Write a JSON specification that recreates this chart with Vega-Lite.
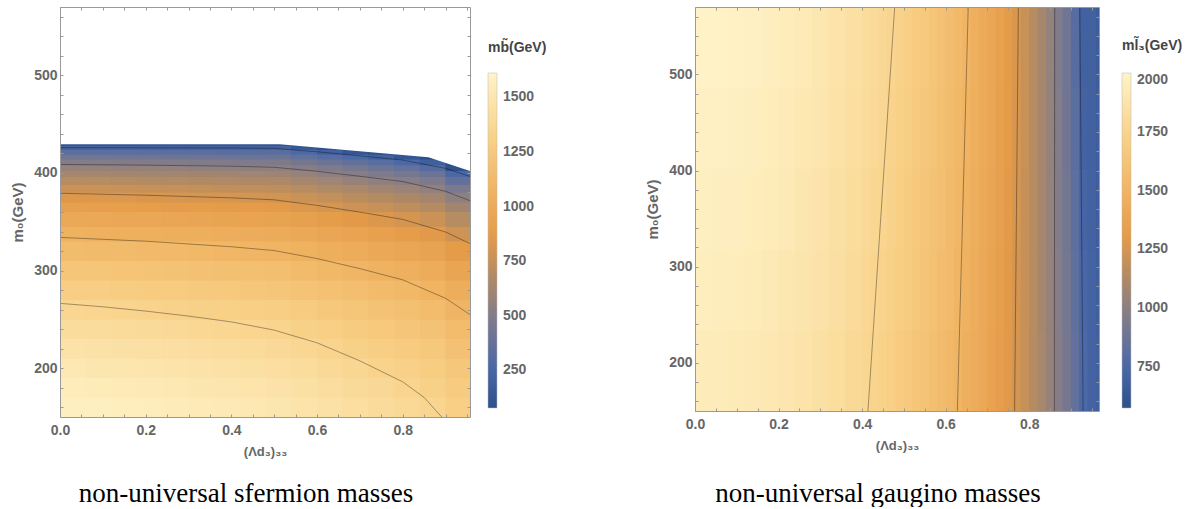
{
"$schema": "https://vega.github.io/schema/vega-lite/v6.json",
"padding": {"left": 10, "top": 6, "right": 0, "bottom": 0},
"background": "white",
"config": {
  "view": {"stroke": null},
  "axis": {"labelFont": "Liberation Sans", "labelFontWeight": "bold", "labelFontSize": 14, "labelColor": "#666", "titleFont": "Liberation Sans", "titleFontWeight": "bold", "titleFontSize": 14, "titleColor": "#666", "grid": false, "domain": true, "domainColor": "#999", "tickColor": "#999", "zindex": 2, "labelOverlap": false, "labelFlush": false},
  "concat": {"spacing": 98}
},
"datasets": {
"sfermion": [
{"x":0,"x2":0.06,"y":150,"y2":170,"m":1581},{"x":0,"x2":0.06,"y":170,"y2":190,"m":1547},{"x":0,"x2":0.06,"y":190,"y2":210,"m":1508},{"x":0,"x2":0.06,"y":210,"y2":230,"m":1464},{"x":0,"x2":0.06,"y":230,"y2":250,"m":1413},{"x":0,"x2":0.06,"y":250,"y2":270,"m":1357},{"x":0,"x2":0.06,"y":270,"y2":290,"m":1292},{"x":0,"x2":0.06,"y":290,"y2":310,"m":1220},{"x":0,"x2":0.06,"y":310,"y2":330,"m":1138},{"x":0,"x2":0.06,"y":330,"y2":345,"m":1055},{"x":0,"x2":0.06,"y":345,"y2":360,"m":976},{"x":0,"x2":0.06,"y":360,"y2":370,"m":900},{"x":0,"x2":0.06,"y":370,"y2":380,"m":833},{"x":0,"x2":0.06,"y":380,"y2":388,"m":766},{"x":0,"x2":0.06,"y":388,"y2":396,"m":700},{"x":0,"x2":0.06,"y":396,"y2":402,"m":635},{"x":0,"x2":0.06,"y":402,"y2":408,"m":572},{"x":0,"x2":0.06,"y":408,"y2":414,"m":501},{"x":0,"x2":0.06,"y":414,"y2":419,"m":423},{"x":0,"x2":0.06,"y":419,"y2":424,"m":337},{"x":0,"x2":0.06,"y":424,"y2":428,"m":232},{"x":0,"x2":0.06,"y":428,"y2":430,"m":116},
{"x":0.06,"x2":0.12,"y":150,"y2":170,"m":1573},{"x":0.06,"x2":0.12,"y":170,"y2":190,"m":1539},{"x":0.06,"x2":0.12,"y":190,"y2":210,"m":1500},{"x":0.06,"x2":0.12,"y":210,"y2":230,"m":1457},{"x":0.06,"x2":0.12,"y":230,"y2":250,"m":1406},{"x":0.06,"x2":0.12,"y":250,"y2":270,"m":1350},{"x":0.06,"x2":0.12,"y":270,"y2":290,"m":1286},{"x":0.06,"x2":0.12,"y":290,"y2":310,"m":1214},{"x":0.06,"x2":0.12,"y":310,"y2":330,"m":1132},{"x":0.06,"x2":0.12,"y":330,"y2":345,"m":1050},{"x":0.06,"x2":0.12,"y":345,"y2":360,"m":971},{"x":0.06,"x2":0.12,"y":360,"y2":370,"m":896},{"x":0.06,"x2":0.12,"y":370,"y2":380,"m":829},{"x":0.06,"x2":0.12,"y":380,"y2":388,"m":762},{"x":0.06,"x2":0.12,"y":388,"y2":396,"m":697},{"x":0.06,"x2":0.12,"y":396,"y2":402,"m":632},{"x":0.06,"x2":0.12,"y":402,"y2":408,"m":569},{"x":0.06,"x2":0.12,"y":408,"y2":414,"m":498},{"x":0.06,"x2":0.12,"y":414,"y2":419,"m":421},{"x":0.06,"x2":0.12,"y":419,"y2":424,"m":335},{"x":0.06,"x2":0.12,"y":424,"y2":428,"m":231},{"x":0.06,"x2":0.12,"y":428,"y2":430,"m":115},
{"x":0.12,"x2":0.18,"y":150,"y2":170,"m":1564},{"x":0.12,"x2":0.18,"y":170,"y2":190,"m":1531},{"x":0.12,"x2":0.18,"y":190,"y2":210,"m":1492},{"x":0.12,"x2":0.18,"y":210,"y2":230,"m":1449},{"x":0.12,"x2":0.18,"y":230,"y2":250,"m":1398},{"x":0.12,"x2":0.18,"y":250,"y2":270,"m":1343},{"x":0.12,"x2":0.18,"y":270,"y2":290,"m":1279},{"x":0.12,"x2":0.18,"y":290,"y2":310,"m":1207},{"x":0.12,"x2":0.18,"y":310,"y2":330,"m":1126},{"x":0.12,"x2":0.18,"y":330,"y2":345,"m":1044},{"x":0.12,"x2":0.18,"y":345,"y2":360,"m":966},{"x":0.12,"x2":0.18,"y":360,"y2":370,"m":891},{"x":0.12,"x2":0.18,"y":370,"y2":380,"m":824},{"x":0.12,"x2":0.18,"y":380,"y2":388,"m":758},{"x":0.12,"x2":0.18,"y":388,"y2":396,"m":693},{"x":0.12,"x2":0.18,"y":396,"y2":402,"m":628},{"x":0.12,"x2":0.18,"y":402,"y2":408,"m":566},{"x":0.12,"x2":0.18,"y":408,"y2":414,"m":496},{"x":0.12,"x2":0.18,"y":414,"y2":419,"m":419},{"x":0.12,"x2":0.18,"y":419,"y2":424,"m":333},{"x":0.12,"x2":0.18,"y":424,"y2":428,"m":230},{"x":0.12,"x2":0.18,"y":428,"y2":430,"m":115},
{"x":0.18,"x2":0.24,"y":150,"y2":170,"m":1555},{"x":0.18,"x2":0.24,"y":170,"y2":190,"m":1522},{"x":0.18,"x2":0.24,"y":190,"y2":210,"m":1483},{"x":0.18,"x2":0.24,"y":210,"y2":230,"m":1440},{"x":0.18,"x2":0.24,"y":230,"y2":250,"m":1390},{"x":0.18,"x2":0.24,"y":250,"y2":270,"m":1335},{"x":0.18,"x2":0.24,"y":270,"y2":290,"m":1271},{"x":0.18,"x2":0.24,"y":290,"y2":310,"m":1200},{"x":0.18,"x2":0.24,"y":310,"y2":330,"m":1119},{"x":0.18,"x2":0.24,"y":330,"y2":345,"m":1038},{"x":0.18,"x2":0.24,"y":345,"y2":360,"m":960},{"x":0.18,"x2":0.24,"y":360,"y2":370,"m":885},{"x":0.18,"x2":0.24,"y":370,"y2":380,"m":819},{"x":0.18,"x2":0.24,"y":380,"y2":388,"m":753},{"x":0.18,"x2":0.24,"y":388,"y2":396,"m":689},{"x":0.18,"x2":0.24,"y":396,"y2":402,"m":625},{"x":0.18,"x2":0.24,"y":402,"y2":408,"m":563},{"x":0.18,"x2":0.24,"y":408,"y2":414,"m":493},{"x":0.18,"x2":0.24,"y":414,"y2":419,"m":416},{"x":0.18,"x2":0.24,"y":419,"y2":424,"m":331},{"x":0.18,"x2":0.24,"y":424,"y2":428,"m":228},{"x":0.18,"x2":0.24,"y":428,"y2":430,"m":114},
{"x":0.24,"x2":0.3,"y":150,"y2":170,"m":1545},{"x":0.24,"x2":0.3,"y":170,"y2":190,"m":1512},{"x":0.24,"x2":0.3,"y":190,"y2":210,"m":1474},{"x":0.24,"x2":0.3,"y":210,"y2":230,"m":1431},{"x":0.24,"x2":0.3,"y":230,"y2":250,"m":1381},{"x":0.24,"x2":0.3,"y":250,"y2":270,"m":1326},{"x":0.24,"x2":0.3,"y":270,"y2":290,"m":1263},{"x":0.24,"x2":0.3,"y":290,"y2":310,"m":1192},{"x":0.24,"x2":0.3,"y":310,"y2":330,"m":1112},{"x":0.24,"x2":0.3,"y":330,"y2":345,"m":1031},{"x":0.24,"x2":0.3,"y":345,"y2":360,"m":954},{"x":0.24,"x2":0.3,"y":360,"y2":370,"m":880},{"x":0.24,"x2":0.3,"y":370,"y2":380,"m":814},{"x":0.24,"x2":0.3,"y":380,"y2":388,"m":749},{"x":0.24,"x2":0.3,"y":388,"y2":396,"m":684},{"x":0.24,"x2":0.3,"y":396,"y2":402,"m":621},{"x":0.24,"x2":0.3,"y":402,"y2":408,"m":559},{"x":0.24,"x2":0.3,"y":408,"y2":414,"m":490},{"x":0.24,"x2":0.3,"y":414,"y2":419,"m":413},{"x":0.24,"x2":0.3,"y":419,"y2":424,"m":329},{"x":0.24,"x2":0.3,"y":424,"y2":428,"m":227},{"x":0.24,"x2":0.3,"y":428,"y2":430,"m":113},
{"x":0.3,"x2":0.36,"y":150,"y2":170,"m":1534},{"x":0.3,"x2":0.36,"y":170,"y2":190,"m":1501},{"x":0.3,"x2":0.36,"y":190,"y2":210,"m":1463},{"x":0.3,"x2":0.36,"y":210,"y2":230,"m":1421},{"x":0.3,"x2":0.36,"y":230,"y2":250,"m":1371},{"x":0.3,"x2":0.36,"y":250,"y2":270,"m":1317},{"x":0.3,"x2":0.36,"y":270,"y2":290,"m":1254},{"x":0.3,"x2":0.36,"y":290,"y2":310,"m":1184},{"x":0.3,"x2":0.36,"y":310,"y2":330,"m":1104},{"x":0.3,"x2":0.36,"y":330,"y2":345,"m":1024},{"x":0.3,"x2":0.36,"y":345,"y2":360,"m":947},{"x":0.3,"x2":0.36,"y":360,"y2":370,"m":873},{"x":0.3,"x2":0.36,"y":370,"y2":380,"m":808},{"x":0.3,"x2":0.36,"y":380,"y2":388,"m":743},{"x":0.3,"x2":0.36,"y":388,"y2":396,"m":679},{"x":0.3,"x2":0.36,"y":396,"y2":402,"m":616},{"x":0.3,"x2":0.36,"y":402,"y2":408,"m":555},{"x":0.3,"x2":0.36,"y":408,"y2":414,"m":486},{"x":0.3,"x2":0.36,"y":414,"y2":419,"m":411},{"x":0.3,"x2":0.36,"y":419,"y2":424,"m":327},{"x":0.3,"x2":0.36,"y":424,"y2":428,"m":225},{"x":0.3,"x2":0.36,"y":428,"y2":430,"m":113},
{"x":0.36,"x2":0.42,"y":150,"y2":170,"m":1523},{"x":0.36,"x2":0.42,"y":170,"y2":190,"m":1490},{"x":0.36,"x2":0.42,"y":190,"y2":210,"m":1452},{"x":0.36,"x2":0.42,"y":210,"y2":230,"m":1410},{"x":0.36,"x2":0.42,"y":230,"y2":250,"m":1361},{"x":0.36,"x2":0.42,"y":250,"y2":270,"m":1307},{"x":0.36,"x2":0.42,"y":270,"y2":290,"m":1244},{"x":0.36,"x2":0.42,"y":290,"y2":310,"m":1175},{"x":0.36,"x2":0.42,"y":310,"y2":330,"m":1096},{"x":0.36,"x2":0.42,"y":330,"y2":345,"m":1016},{"x":0.36,"x2":0.42,"y":345,"y2":360,"m":940},{"x":0.36,"x2":0.42,"y":360,"y2":370,"m":867},{"x":0.36,"x2":0.42,"y":370,"y2":380,"m":802},{"x":0.36,"x2":0.42,"y":380,"y2":388,"m":738},{"x":0.36,"x2":0.42,"y":388,"y2":396,"m":674},{"x":0.36,"x2":0.42,"y":396,"y2":402,"m":612},{"x":0.36,"x2":0.42,"y":402,"y2":408,"m":551},{"x":0.36,"x2":0.42,"y":408,"y2":414,"m":483},{"x":0.36,"x2":0.42,"y":414,"y2":419,"m":407},{"x":0.36,"x2":0.42,"y":419,"y2":424,"m":325},{"x":0.36,"x2":0.42,"y":424,"y2":428,"m":223},{"x":0.36,"x2":0.42,"y":428,"y2":430,"m":112},
{"x":0.42,"x2":0.48,"y":150,"y2":170,"m":1511},{"x":0.42,"x2":0.48,"y":170,"y2":190,"m":1478},{"x":0.42,"x2":0.48,"y":190,"y2":210,"m":1441},{"x":0.42,"x2":0.48,"y":210,"y2":230,"m":1399},{"x":0.42,"x2":0.48,"y":230,"y2":250,"m":1350},{"x":0.42,"x2":0.48,"y":250,"y2":270,"m":1297},{"x":0.42,"x2":0.48,"y":270,"y2":290,"m":1234},{"x":0.42,"x2":0.48,"y":290,"y2":310,"m":1166},{"x":0.42,"x2":0.48,"y":310,"y2":330,"m":1087},{"x":0.42,"x2":0.48,"y":330,"y2":345,"m":1008},{"x":0.42,"x2":0.48,"y":345,"y2":360,"m":933},{"x":0.42,"x2":0.48,"y":360,"y2":370,"m":860},{"x":0.42,"x2":0.48,"y":370,"y2":380,"m":796},{"x":0.42,"x2":0.48,"y":380,"y2":388,"m":732},{"x":0.42,"x2":0.48,"y":388,"y2":396,"m":669},{"x":0.42,"x2":0.48,"y":396,"y2":402,"m":607},{"x":0.42,"x2":0.48,"y":402,"y2":408,"m":547},{"x":0.42,"x2":0.48,"y":408,"y2":414,"m":479},{"x":0.42,"x2":0.48,"y":414,"y2":419,"m":404},{"x":0.42,"x2":0.48,"y":419,"y2":424,"m":322},{"x":0.42,"x2":0.48,"y":424,"y2":428,"m":222},{"x":0.42,"x2":0.48,"y":428,"y2":430,"m":111},
{"x":0.48,"x2":0.54,"y":150,"y2":170,"m":1498},{"x":0.48,"x2":0.54,"y":170,"y2":190,"m":1465},{"x":0.48,"x2":0.54,"y":190,"y2":210,"m":1428},{"x":0.48,"x2":0.54,"y":210,"y2":230,"m":1387},{"x":0.48,"x2":0.54,"y":230,"y2":250,"m":1338},{"x":0.48,"x2":0.54,"y":250,"y2":270,"m":1285},{"x":0.48,"x2":0.54,"y":270,"y2":290,"m":1224},{"x":0.48,"x2":0.54,"y":290,"y2":310,"m":1156},{"x":0.48,"x2":0.54,"y":310,"y2":330,"m":1078},{"x":0.48,"x2":0.54,"y":330,"y2":345,"m":999},{"x":0.48,"x2":0.54,"y":345,"y2":360,"m":925},{"x":0.48,"x2":0.54,"y":360,"y2":370,"m":853},{"x":0.48,"x2":0.54,"y":370,"y2":380,"m":789},{"x":0.48,"x2":0.54,"y":380,"y2":388,"m":726},{"x":0.48,"x2":0.54,"y":388,"y2":396,"m":663},{"x":0.48,"x2":0.54,"y":396,"y2":402,"m":602},{"x":0.48,"x2":0.54,"y":402,"y2":408,"m":542},{"x":0.48,"x2":0.54,"y":408,"y2":414,"m":475},{"x":0.48,"x2":0.54,"y":414,"y2":419,"m":401},{"x":0.48,"x2":0.54,"y":419,"y2":424,"m":319},{"x":0.48,"x2":0.54,"y":424,"y2":428,"m":220},{"x":0.48,"x2":0.54,"y":428,"y2":430,"m":110},
{"x":0.54,"x2":0.6,"y":150,"y2":170,"m":1474},{"x":0.54,"x2":0.6,"y":170,"y2":190,"m":1442},{"x":0.54,"x2":0.6,"y":190,"y2":210,"m":1406},{"x":0.54,"x2":0.6,"y":210,"y2":230,"m":1364},{"x":0.54,"x2":0.6,"y":230,"y2":250,"m":1316},{"x":0.54,"x2":0.6,"y":250,"y2":270,"m":1263},{"x":0.54,"x2":0.6,"y":270,"y2":290,"m":1202},{"x":0.54,"x2":0.6,"y":290,"y2":310,"m":1133},{"x":0.54,"x2":0.6,"y":310,"y2":330,"m":1055},{"x":0.54,"x2":0.6,"y":330,"y2":345,"m":977},{"x":0.54,"x2":0.6,"y":345,"y2":360,"m":900},{"x":0.54,"x2":0.6,"y":360,"y2":370,"m":829},{"x":0.54,"x2":0.6,"y":370,"y2":380,"m":765},{"x":0.54,"x2":0.6,"y":380,"y2":388,"m":700},{"x":0.54,"x2":0.6,"y":388,"y2":396,"m":636},{"x":0.54,"x2":0.6,"y":396,"y2":402,"m":573},{"x":0.54,"x2":0.6,"y":402,"y2":408,"m":511},{"x":0.54,"x2":0.6,"y":408,"y2":414,"m":440},{"x":0.54,"x2":0.6,"y":414,"y2":419,"m":361},{"x":0.54,"x2":0.6,"y":419,"y2":424,"m":270},{"x":0.54,"x2":0.6,"y":424,"y2":428,"m":142},{"x":0.54,"x2":0.6,"y":428,"y2":430,"m":77},
{"x":0.6,"x2":0.66,"y":150,"y2":170,"m":1451},{"x":0.6,"x2":0.66,"y":170,"y2":190,"m":1419},{"x":0.6,"x2":0.66,"y":190,"y2":210,"m":1382},{"x":0.6,"x2":0.66,"y":210,"y2":230,"m":1340},{"x":0.6,"x2":0.66,"y":230,"y2":250,"m":1293},{"x":0.6,"x2":0.66,"y":250,"y2":270,"m":1239},{"x":0.6,"x2":0.66,"y":270,"y2":290,"m":1179},{"x":0.6,"x2":0.66,"y":290,"y2":310,"m":1110},{"x":0.6,"x2":0.66,"y":310,"y2":330,"m":1031},{"x":0.6,"x2":0.66,"y":330,"y2":345,"m":953},{"x":0.6,"x2":0.66,"y":345,"y2":360,"m":876},{"x":0.6,"x2":0.66,"y":360,"y2":370,"m":804},{"x":0.6,"x2":0.66,"y":370,"y2":380,"m":739},{"x":0.6,"x2":0.66,"y":380,"y2":388,"m":673},{"x":0.6,"x2":0.66,"y":388,"y2":396,"m":608},{"x":0.6,"x2":0.66,"y":396,"y2":402,"m":542},{"x":0.6,"x2":0.66,"y":402,"y2":408,"m":478},{"x":0.6,"x2":0.66,"y":408,"y2":414,"m":403},{"x":0.6,"x2":0.66,"y":414,"y2":419,"m":317},{"x":0.6,"x2":0.66,"y":419,"y2":424,"m":209},{"x":0.6,"x2":0.66,"y":424,"y2":428,"m":80},
{"x":0.66,"x2":0.72,"y":150,"y2":170,"m":1427},{"x":0.66,"x2":0.72,"y":170,"y2":190,"m":1395},{"x":0.66,"x2":0.72,"y":190,"y2":210,"m":1358},{"x":0.66,"x2":0.72,"y":210,"y2":230,"m":1316},{"x":0.66,"x2":0.72,"y":230,"y2":250,"m":1269},{"x":0.66,"x2":0.72,"y":250,"y2":270,"m":1215},{"x":0.66,"x2":0.72,"y":270,"y2":290,"m":1155},{"x":0.66,"x2":0.72,"y":290,"y2":310,"m":1086},{"x":0.66,"x2":0.72,"y":310,"y2":330,"m":1008},{"x":0.66,"x2":0.72,"y":330,"y2":345,"m":929},{"x":0.66,"x2":0.72,"y":345,"y2":360,"m":851},{"x":0.66,"x2":0.72,"y":360,"y2":370,"m":778},{"x":0.66,"x2":0.72,"y":370,"y2":380,"m":712},{"x":0.66,"x2":0.72,"y":380,"y2":388,"m":646},{"x":0.66,"x2":0.72,"y":388,"y2":396,"m":578},{"x":0.66,"x2":0.72,"y":396,"y2":402,"m":511},{"x":0.66,"x2":0.72,"y":402,"y2":408,"m":443},{"x":0.66,"x2":0.72,"y":408,"y2":414,"m":363},{"x":0.66,"x2":0.72,"y":414,"y2":419,"m":267},{"x":0.66,"x2":0.72,"y":419,"y2":424,"m":125},
{"x":0.72,"x2":0.78,"y":150,"y2":170,"m":1401},{"x":0.72,"x2":0.78,"y":170,"y2":190,"m":1369},{"x":0.72,"x2":0.78,"y":190,"y2":210,"m":1333},{"x":0.72,"x2":0.78,"y":210,"y2":230,"m":1291},{"x":0.72,"x2":0.78,"y":230,"y2":250,"m":1244},{"x":0.72,"x2":0.78,"y":250,"y2":270,"m":1191},{"x":0.72,"x2":0.78,"y":270,"y2":290,"m":1130},{"x":0.72,"x2":0.78,"y":290,"y2":310,"m":1061},{"x":0.72,"x2":0.78,"y":310,"y2":330,"m":983},{"x":0.72,"x2":0.78,"y":330,"y2":345,"m":904},{"x":0.72,"x2":0.78,"y":345,"y2":360,"m":826},{"x":0.72,"x2":0.78,"y":360,"y2":370,"m":752},{"x":0.72,"x2":0.78,"y":370,"y2":380,"m":685},{"x":0.72,"x2":0.78,"y":380,"y2":388,"m":617},{"x":0.72,"x2":0.78,"y":388,"y2":396,"m":547},{"x":0.72,"x2":0.78,"y":396,"y2":402,"m":477},{"x":0.72,"x2":0.78,"y":402,"y2":408,"m":406},{"x":0.72,"x2":0.78,"y":408,"y2":414,"m":319},{"x":0.72,"x2":0.78,"y":414,"y2":419,"m":206},{"x":0.72,"x2":0.78,"y":419,"y2":424,"m":100},
{"x":0.78,"x2":0.84,"y":150,"y2":170,"m":1376},{"x":0.78,"x2":0.84,"y":170,"y2":190,"m":1344},{"x":0.78,"x2":0.84,"y":190,"y2":210,"m":1308},{"x":0.78,"x2":0.84,"y":210,"y2":230,"m":1266},{"x":0.78,"x2":0.84,"y":230,"y2":250,"m":1219},{"x":0.78,"x2":0.84,"y":250,"y2":270,"m":1166},{"x":0.78,"x2":0.84,"y":270,"y2":290,"m":1106},{"x":0.78,"x2":0.84,"y":290,"y2":310,"m":1037},{"x":0.78,"x2":0.84,"y":310,"y2":330,"m":958},{"x":0.78,"x2":0.84,"y":330,"y2":345,"m":879},{"x":0.78,"x2":0.84,"y":345,"y2":360,"m":801},{"x":0.78,"x2":0.84,"y":360,"y2":370,"m":726},{"x":0.78,"x2":0.84,"y":370,"y2":380,"m":658},{"x":0.78,"x2":0.84,"y":380,"y2":388,"m":588},{"x":0.78,"x2":0.84,"y":388,"y2":396,"m":517},{"x":0.78,"x2":0.84,"y":396,"y2":402,"m":444},{"x":0.78,"x2":0.84,"y":402,"y2":408,"m":368},{"x":0.78,"x2":0.84,"y":408,"y2":414,"m":271},{"x":0.78,"x2":0.84,"y":414,"y2":419,"m":126},
{"x":0.84,"x2":0.9,"y":150,"y2":170,"m":1346},{"x":0.84,"x2":0.9,"y":170,"y2":190,"m":1315},{"x":0.84,"x2":0.9,"y":190,"y2":210,"m":1278},{"x":0.84,"x2":0.9,"y":210,"y2":230,"m":1237},{"x":0.84,"x2":0.9,"y":230,"y2":250,"m":1190},{"x":0.84,"x2":0.9,"y":250,"y2":270,"m":1137},{"x":0.84,"x2":0.9,"y":270,"y2":290,"m":1076},{"x":0.84,"x2":0.9,"y":290,"y2":310,"m":1007},{"x":0.84,"x2":0.9,"y":310,"y2":330,"m":928},{"x":0.84,"x2":0.9,"y":330,"y2":345,"m":848},{"x":0.84,"x2":0.9,"y":345,"y2":360,"m":768},{"x":0.84,"x2":0.9,"y":360,"y2":370,"m":692},{"x":0.84,"x2":0.9,"y":370,"y2":380,"m":622},{"x":0.84,"x2":0.9,"y":380,"y2":388,"m":550},{"x":0.84,"x2":0.9,"y":388,"y2":396,"m":475},{"x":0.84,"x2":0.9,"y":396,"y2":402,"m":397},{"x":0.84,"x2":0.9,"y":402,"y2":408,"m":312},{"x":0.84,"x2":0.9,"y":408,"y2":414,"m":192},{"x":0.84,"x2":0.9,"y":414,"y2":419,"m":80},
{"x":0.9,"x2":0.96,"y":150,"y2":170,"m":1296},{"x":0.9,"x2":0.96,"y":170,"y2":190,"m":1264},{"x":0.9,"x2":0.96,"y":190,"y2":210,"m":1227},{"x":0.9,"x2":0.96,"y":210,"y2":230,"m":1185},{"x":0.9,"x2":0.96,"y":230,"y2":250,"m":1137},{"x":0.9,"x2":0.96,"y":250,"y2":270,"m":1083},{"x":0.9,"x2":0.96,"y":270,"y2":290,"m":1021},{"x":0.9,"x2":0.96,"y":290,"y2":310,"m":950},{"x":0.9,"x2":0.96,"y":310,"y2":330,"m":868},{"x":0.9,"x2":0.96,"y":330,"y2":345,"m":784},{"x":0.9,"x2":0.96,"y":345,"y2":360,"m":699},{"x":0.9,"x2":0.96,"y":360,"y2":370,"m":617},{"x":0.9,"x2":0.96,"y":370,"y2":380,"m":540},{"x":0.9,"x2":0.96,"y":380,"y2":388,"m":457},{"x":0.9,"x2":0.96,"y":388,"y2":396,"m":366},{"x":0.9,"x2":0.96,"y":396,"y2":402,"m":259},{"x":0.9,"x2":0.96,"y":402,"y2":408,"m":94},{"x":0.9,"x2":0.96,"y":408,"y2":414,"m":77}
],
"sfermionEdge": [
{"x":0,"y":429.5},{"x":0.513,"y":429.5},{"x":0.86,"y":416},{"x":0.96,"y":401.5}
],
"sfermionContours": [
{"level":1340,"x":0,"y":266.4},{"level":1340,"x":0.1,"y":262.9},{"level":1340,"x":0.2,"y":258.5},{"level":1340,"x":0.3,"y":253.4},{"level":1340,"x":0.4,"y":247.4},{"level":1340,"x":0.5,"y":239},{"level":1340,"x":0.6,"y":226},{"level":1340,"x":0.7,"y":207.5},{"level":1340,"x":0.8,"y":186},{"level":1340,"x":0.85,"y":170},{"level":1340,"x":0.891,"y":150},
{"level":1075,"x":0,"y":334},{"level":1075,"x":0.2,"y":330.1},{"level":1075,"x":0.4,"y":324.4},{"level":1075,"x":0.5,"y":320.5},{"level":1075,"x":0.6,"y":312.3},{"level":1075,"x":0.7,"y":302},{"level":1075,"x":0.8,"y":290.5},{"level":1075,"x":0.9,"y":271.6},{"level":1075,"x":0.96,"y":254},
{"level":805,"x":0,"y":379.2},{"level":805,"x":0.2,"y":377.2},{"level":805,"x":0.4,"y":374.5},{"level":805,"x":0.5,"y":372.5},{"level":805,"x":0.6,"y":366.8},{"level":805,"x":0.7,"y":359.9},{"level":805,"x":0.8,"y":352.4},{"level":805,"x":0.9,"y":339.5},{"level":805,"x":0.96,"y":327},
{"level":530,"x":0,"y":408.7},{"level":530,"x":0.2,"y":408},{"level":530,"x":0.4,"y":406.9},{"level":530,"x":0.5,"y":405.8},{"level":530,"x":0.6,"y":401.7},{"level":530,"x":0.7,"y":396.6},{"level":530,"x":0.8,"y":391.2},{"level":530,"x":0.9,"y":381.2},{"level":530,"x":0.96,"y":371},
{"level":235,"x":0,"y":425.9},{"level":235,"x":0.2,"y":425.8},{"level":235,"x":0.4,"y":425.6},{"level":235,"x":0.5,"y":425.2},{"level":235,"x":0.6,"y":421.7},{"level":235,"x":0.7,"y":417.5},{"level":235,"x":0.8,"y":413.2},{"level":235,"x":0.9,"y":404.7},{"level":235,"x":0.96,"y":396}
],
"gaugino": [
{"x":0,"x2":0.04,"y":150,"y2":234,"m":1937},{"x":0,"x2":0.04,"y":234,"y2":318,"m":1951},{"x":0,"x2":0.04,"y":318,"y2":402,"m":1965},{"x":0,"x2":0.04,"y":402,"y2":486,"m":1979},{"x":0,"x2":0.04,"y":486,"y2":570,"m":1993},
{"x":0.04,"x2":0.08,"y":150,"y2":234,"m":1934},{"x":0.04,"x2":0.08,"y":234,"y2":318,"m":1948},{"x":0.04,"x2":0.08,"y":318,"y2":402,"m":1962},{"x":0.04,"x2":0.08,"y":402,"y2":486,"m":1976},{"x":0.04,"x2":0.08,"y":486,"y2":570,"m":1989},
{"x":0.08,"x2":0.12,"y":150,"y2":234,"m":1927},{"x":0.08,"x2":0.12,"y":234,"y2":318,"m":1941},{"x":0.08,"x2":0.12,"y":318,"y2":402,"m":1955},{"x":0.08,"x2":0.12,"y":402,"y2":486,"m":1969},{"x":0.08,"x2":0.12,"y":486,"y2":570,"m":1983},
{"x":0.12,"x2":0.16,"y":150,"y2":234,"m":1917},{"x":0.12,"x2":0.16,"y":234,"y2":318,"m":1932},{"x":0.12,"x2":0.16,"y":318,"y2":402,"m":1946},{"x":0.12,"x2":0.16,"y":402,"y2":486,"m":1959},{"x":0.12,"x2":0.16,"y":486,"y2":570,"m":1973},
{"x":0.16,"x2":0.2,"y":150,"y2":234,"m":1905},{"x":0.16,"x2":0.2,"y":234,"y2":318,"m":1919},{"x":0.16,"x2":0.2,"y":318,"y2":402,"m":1933},{"x":0.16,"x2":0.2,"y":402,"y2":486,"m":1946},{"x":0.16,"x2":0.2,"y":486,"y2":570,"m":1960},
{"x":0.2,"x2":0.24,"y":150,"y2":234,"m":1889},{"x":0.2,"x2":0.24,"y":234,"y2":318,"m":1902},{"x":0.2,"x2":0.24,"y":318,"y2":402,"m":1916},{"x":0.2,"x2":0.24,"y":402,"y2":486,"m":1930},{"x":0.2,"x2":0.24,"y":486,"y2":570,"m":1943},
{"x":0.24,"x2":0.28,"y":150,"y2":234,"m":1869},{"x":0.24,"x2":0.28,"y":234,"y2":318,"m":1883},{"x":0.24,"x2":0.28,"y":318,"y2":402,"m":1896},{"x":0.24,"x2":0.28,"y":402,"y2":486,"m":1910},{"x":0.24,"x2":0.28,"y":486,"y2":570,"m":1923},
{"x":0.28,"x2":0.32,"y":150,"y2":234,"m":1846},{"x":0.28,"x2":0.32,"y":234,"y2":318,"m":1860},{"x":0.28,"x2":0.32,"y":318,"y2":402,"m":1873},{"x":0.28,"x2":0.32,"y":402,"y2":486,"m":1886},{"x":0.28,"x2":0.32,"y":486,"y2":570,"m":1900},
{"x":0.32,"x2":0.36,"y":150,"y2":234,"m":1820},{"x":0.32,"x2":0.36,"y":234,"y2":318,"m":1833},{"x":0.32,"x2":0.36,"y":318,"y2":402,"m":1846},{"x":0.32,"x2":0.36,"y":402,"y2":486,"m":1859},{"x":0.32,"x2":0.36,"y":486,"y2":570,"m":1872},
{"x":0.36,"x2":0.4,"y":150,"y2":234,"m":1790},{"x":0.36,"x2":0.4,"y":234,"y2":318,"m":1803},{"x":0.36,"x2":0.4,"y":318,"y2":402,"m":1816},{"x":0.36,"x2":0.4,"y":402,"y2":486,"m":1828},{"x":0.36,"x2":0.4,"y":486,"y2":570,"m":1841},
{"x":0.4,"x2":0.42,"y":150,"y2":234,"m":1765},{"x":0.4,"x2":0.42,"y":234,"y2":318,"m":1777},{"x":0.4,"x2":0.42,"y":318,"y2":402,"m":1790},{"x":0.4,"x2":0.42,"y":402,"y2":486,"m":1802},{"x":0.4,"x2":0.42,"y":486,"y2":570,"m":1815},
{"x":0.42,"x2":0.44,"y":150,"y2":234,"m":1747},{"x":0.42,"x2":0.44,"y":234,"y2":318,"m":1759},{"x":0.42,"x2":0.44,"y":318,"y2":402,"m":1772},{"x":0.42,"x2":0.44,"y":402,"y2":486,"m":1784},{"x":0.42,"x2":0.44,"y":486,"y2":570,"m":1796},
{"x":0.44,"x2":0.46,"y":150,"y2":234,"m":1728},{"x":0.44,"x2":0.46,"y":234,"y2":318,"m":1740},{"x":0.44,"x2":0.46,"y":318,"y2":402,"m":1752},{"x":0.44,"x2":0.46,"y":402,"y2":486,"m":1764},{"x":0.44,"x2":0.46,"y":486,"y2":570,"m":1776},
{"x":0.46,"x2":0.48,"y":150,"y2":234,"m":1708},{"x":0.46,"x2":0.48,"y":234,"y2":318,"m":1720},{"x":0.46,"x2":0.48,"y":318,"y2":402,"m":1732},{"x":0.46,"x2":0.48,"y":402,"y2":486,"m":1743},{"x":0.46,"x2":0.48,"y":486,"y2":570,"m":1755},
{"x":0.48,"x2":0.5,"y":150,"y2":234,"m":1687},{"x":0.48,"x2":0.5,"y":234,"y2":318,"m":1698},{"x":0.48,"x2":0.5,"y":318,"y2":402,"m":1710},{"x":0.48,"x2":0.5,"y":402,"y2":486,"m":1721},{"x":0.48,"x2":0.5,"y":486,"y2":570,"m":1733},
{"x":0.5,"x2":0.52,"y":150,"y2":234,"m":1664},{"x":0.5,"x2":0.52,"y":234,"y2":318,"m":1676},{"x":0.5,"x2":0.52,"y":318,"y2":402,"m":1687},{"x":0.5,"x2":0.52,"y":402,"y2":486,"m":1698},{"x":0.5,"x2":0.52,"y":486,"y2":570,"m":1710},
{"x":0.52,"x2":0.54,"y":150,"y2":234,"m":1641},{"x":0.52,"x2":0.54,"y":234,"y2":318,"m":1652},{"x":0.52,"x2":0.54,"y":318,"y2":402,"m":1663},{"x":0.52,"x2":0.54,"y":402,"y2":486,"m":1674},{"x":0.52,"x2":0.54,"y":486,"y2":570,"m":1685},
{"x":0.54,"x2":0.56,"y":150,"y2":234,"m":1617},{"x":0.54,"x2":0.56,"y":234,"y2":318,"m":1627},{"x":0.54,"x2":0.56,"y":318,"y2":402,"m":1638},{"x":0.54,"x2":0.56,"y":402,"y2":486,"m":1648},{"x":0.54,"x2":0.56,"y":486,"y2":570,"m":1659},
{"x":0.56,"x2":0.58,"y":150,"y2":234,"m":1591},{"x":0.56,"x2":0.58,"y":234,"y2":318,"m":1601},{"x":0.56,"x2":0.58,"y":318,"y2":402,"m":1611},{"x":0.56,"x2":0.58,"y":402,"y2":486,"m":1621},{"x":0.56,"x2":0.58,"y":486,"y2":570,"m":1631},
{"x":0.58,"x2":0.6,"y":150,"y2":234,"m":1563},{"x":0.58,"x2":0.6,"y":234,"y2":318,"m":1573},{"x":0.58,"x2":0.6,"y":318,"y2":402,"m":1583},{"x":0.58,"x2":0.6,"y":402,"y2":486,"m":1593},{"x":0.58,"x2":0.6,"y":486,"y2":570,"m":1602},
{"x":0.6,"x2":0.62,"y":150,"y2":234,"m":1535},{"x":0.6,"x2":0.62,"y":234,"y2":318,"m":1544},{"x":0.6,"x2":0.62,"y":318,"y2":402,"m":1554},{"x":0.6,"x2":0.62,"y":402,"y2":486,"m":1563},{"x":0.6,"x2":0.62,"y":486,"y2":570,"m":1572},
{"x":0.62,"x2":0.64,"y":150,"y2":234,"m":1505},{"x":0.62,"x2":0.64,"y":234,"y2":318,"m":1514},{"x":0.62,"x2":0.64,"y":318,"y2":402,"m":1523},{"x":0.62,"x2":0.64,"y":402,"y2":486,"m":1531},{"x":0.62,"x2":0.64,"y":486,"y2":570,"m":1540},
{"x":0.64,"x2":0.66,"y":150,"y2":234,"m":1473},{"x":0.64,"x2":0.66,"y":234,"y2":318,"m":1482},{"x":0.64,"x2":0.66,"y":318,"y2":402,"m":1490},{"x":0.64,"x2":0.66,"y":402,"y2":486,"m":1498},{"x":0.64,"x2":0.66,"y":486,"y2":570,"m":1506},
{"x":0.66,"x2":0.68,"y":150,"y2":234,"m":1440},{"x":0.66,"x2":0.68,"y":234,"y2":318,"m":1448},{"x":0.66,"x2":0.68,"y":318,"y2":402,"m":1455},{"x":0.66,"x2":0.68,"y":402,"y2":486,"m":1463},{"x":0.66,"x2":0.68,"y":486,"y2":570,"m":1470},
{"x":0.68,"x2":0.7,"y":150,"y2":234,"m":1405},{"x":0.68,"x2":0.7,"y":234,"y2":318,"m":1412},{"x":0.68,"x2":0.7,"y":318,"y2":402,"m":1419},{"x":0.68,"x2":0.7,"y":402,"y2":486,"m":1426},{"x":0.68,"x2":0.7,"y":486,"y2":570,"m":1433},
{"x":0.7,"x2":0.72,"y":150,"y2":234,"m":1368},{"x":0.7,"x2":0.72,"y":234,"y2":318,"m":1374},{"x":0.7,"x2":0.72,"y":318,"y2":402,"m":1381},{"x":0.7,"x2":0.72,"y":402,"y2":486,"m":1387},{"x":0.7,"x2":0.72,"y":486,"y2":570,"m":1393},
{"x":0.72,"x2":0.74,"y":150,"y2":234,"m":1329},{"x":0.72,"x2":0.74,"y":234,"y2":318,"m":1335},{"x":0.72,"x2":0.74,"y":318,"y2":402,"m":1340},{"x":0.72,"x2":0.74,"y":402,"y2":486,"m":1345},{"x":0.72,"x2":0.74,"y":486,"y2":570,"m":1351},
{"x":0.74,"x2":0.76,"y":150,"y2":234,"m":1288},{"x":0.74,"x2":0.76,"y":234,"y2":318,"m":1293},{"x":0.74,"x2":0.76,"y":318,"y2":402,"m":1297},{"x":0.74,"x2":0.76,"y":402,"y2":486,"m":1301},{"x":0.74,"x2":0.76,"y":486,"y2":570,"m":1306},
{"x":0.76,"x2":0.78,"y":150,"y2":234,"m":1244},{"x":0.76,"x2":0.78,"y":234,"y2":318,"m":1248},{"x":0.76,"x2":0.78,"y":318,"y2":402,"m":1251},{"x":0.76,"x2":0.78,"y":402,"y2":486,"m":1255},{"x":0.76,"x2":0.78,"y":486,"y2":570,"m":1258},
{"x":0.78,"x2":0.8,"y":150,"y2":234,"m":1198},{"x":0.78,"x2":0.8,"y":234,"y2":318,"m":1200},{"x":0.78,"x2":0.8,"y":318,"y2":402,"m":1203},{"x":0.78,"x2":0.8,"y":402,"y2":486,"m":1205},{"x":0.78,"x2":0.8,"y":486,"y2":570,"m":1207},
{"x":0.8,"x2":0.82,"y":150,"y2":234,"m":1149},{"x":0.8,"x2":0.82,"y":234,"y2":318,"m":1150},{"x":0.8,"x2":0.82,"y":318,"y2":402,"m":1151},{"x":0.8,"x2":0.82,"y":402,"y2":486,"m":1152},{"x":0.8,"x2":0.82,"y":486,"y2":570,"m":1153},
{"x":0.82,"x2":0.84,"y":150,"y2":234,"m":1096},{"x":0.82,"x2":0.84,"y":234,"y2":318,"m":1095},{"x":0.82,"x2":0.84,"y":318,"y2":402,"m":1095},{"x":0.82,"x2":0.84,"y":402,"y2":486,"m":1094},{"x":0.82,"x2":0.84,"y":486,"y2":570,"m":1094},
{"x":0.84,"x2":0.86,"y":150,"y2":234,"m":1039},{"x":0.84,"x2":0.86,"y":234,"y2":318,"m":1037},{"x":0.84,"x2":0.86,"y":318,"y2":402,"m":1035},{"x":0.84,"x2":0.86,"y":402,"y2":486,"m":1033},{"x":0.84,"x2":0.86,"y":486,"y2":570,"m":1030},
{"x":0.86,"x2":0.88,"y":150,"y2":234,"m":978},{"x":0.86,"x2":0.88,"y":234,"y2":318,"m":974},{"x":0.86,"x2":0.88,"y":318,"y2":402,"m":970},{"x":0.86,"x2":0.88,"y":402,"y2":486,"m":965},{"x":0.86,"x2":0.88,"y":486,"y2":570,"m":961},
{"x":0.88,"x2":0.9,"y":150,"y2":234,"m":911},{"x":0.88,"x2":0.9,"y":234,"y2":318,"m":904},{"x":0.88,"x2":0.9,"y":318,"y2":402,"m":898},{"x":0.88,"x2":0.9,"y":402,"y2":486,"m":891},{"x":0.88,"x2":0.9,"y":486,"y2":570,"m":884},
{"x":0.9,"x2":0.92,"y":150,"y2":234,"m":837},{"x":0.9,"x2":0.92,"y":234,"y2":318,"m":828},{"x":0.9,"x2":0.92,"y":318,"y2":402,"m":818},{"x":0.9,"x2":0.92,"y":402,"y2":486,"m":808},{"x":0.9,"x2":0.92,"y":486,"y2":570,"m":798},
{"x":0.92,"x2":0.94,"y":150,"y2":234,"m":754},{"x":0.92,"x2":0.94,"y":234,"y2":318,"m":741},{"x":0.92,"x2":0.94,"y":318,"y2":402,"m":728},{"x":0.92,"x2":0.94,"y":402,"y2":486,"m":714},{"x":0.92,"x2":0.94,"y":486,"y2":570,"m":700},
{"x":0.94,"x2":0.96,"y":150,"y2":234,"m":715},{"x":0.94,"x2":0.96,"y":234,"y2":318,"m":710},{"x":0.94,"x2":0.96,"y":318,"y2":402,"m":705},{"x":0.94,"x2":0.96,"y":402,"y2":486,"m":700},{"x":0.94,"x2":0.96,"y":486,"y2":570,"m":695},
{"x":0.96,"x2":0.98,"y":150,"y2":234,"m":690},{"x":0.96,"x2":0.98,"y":234,"y2":318,"m":685},{"x":0.96,"x2":0.98,"y":318,"y2":402,"m":680},{"x":0.96,"x2":0.98,"y":402,"y2":486,"m":675},{"x":0.96,"x2":0.98,"y":486,"y2":570,"m":670}
],
"gauginoContours": [
{"level":1750,"x":0.414,"y":150},{"level":1750,"x":0.43,"y":255},{"level":1750,"x":0.446,"y":360},{"level":1750,"x":0.462,"y":465},{"level":1750,"x":0.478,"y":570},
{"level":1500,"x":0.628,"y":150},{"level":1500,"x":0.641,"y":360},{"level":1500,"x":0.654,"y":570},
{"level":1250,"x":0.765,"y":150},{"level":1250,"x":0.7695,"y":360},{"level":1250,"x":0.774,"y":570},
{"level":1000,"x":0.86,"y":150},{"level":1000,"x":0.861,"y":570},
{"level":750,"x":0.929,"y":150},{"level":750,"x":0.925,"y":360},{"level":750,"x":0.921,"y":570}
]
},
"resolve": {"scale": {"x": "independent", "y": "independent", "fill": "independent", "stroke": "independent"}},
"hconcat": [
{
  "width": 410, "height": 410,
  "title": {"text": "non-universal sfermion masses", "orient": "bottom", "frame": "group", "anchor": "middle", "dx": -19, "offset": 23, "font": "Liberation Serif", "fontSize": 27, "fontWeight": "normal", "color": "#000"},
  "resolve": {"axis": {"x": "independent", "y": "independent"}},
  "layer": [
    {
      "data": {"name": "sfermion"},
      "mark": {"type": "rect", "fill": null, "strokeWidth": 1.5, "clip": true},
      "encoding": {
        "x": {"field": "x", "type": "quantitative", "scale": {"domain": [0, 0.957], "nice": false, "zero": false},
              "axis": {"orient": "bottom", "zindex": 2, "values": [0,0.05,0.1,0.15,0.2,0.25,0.3,0.35,0.4,0.45,0.5,0.55,0.6,0.65,0.7,0.75,0.8,0.85,0.9,0.95], "labelExpr": "round(datum.value*20) % 4 == 0 ? format(datum.value, '.1f') : ''", "title": "(Λd₃)₃₃", "titleFontSize": 13, "tickSize": -3, "labelPadding": 9, "titlePadding": 8}},
        "x2": {"field": "x2"},
        "y": {"field": "y", "type": "quantitative", "scale": {"domain": [150, 570], "nice": false, "zero": false},
              "axis": {"orient": "left", "zindex": 2, "values": [160,180,200,220,240,260,280,300,320,340,360,380,400,420,440,460,480,500,520,540,560], "labelExpr": "datum.value % 100 == 0 ? datum.label : ''", "title": "m₀(GeV)", "titleFontSize": 15, "tickSize": -3, "labelPadding": 6, "titlePadding": 8}},
        "y2": {"field": "y2"},
        "stroke": {"field": "m", "type": "quantitative",
                 "scale": {"domain": [76, 261, 507, 691, 860, 1075, 1305, 1613], "range": ["#2d4f8a", "#4a68a8", "#857d88", "#b48b62", "#e59b48", "#f0b463", "#f8d086", "#fff3c8"], "clamp": true, "interpolate": "rgb"},
                 "legend": null}
      }
    },
    {
      "data": {"name": "sfermion"},
      "mark": {"type": "rect", "clip": true},
      "encoding": {
        "x": {"field": "x", "type": "quantitative", "axis": null},
        "x2": {"field": "x2"},
        "y": {"field": "y", "type": "quantitative", "axis": null},
        "y2": {"field": "y2"},
        "fill": {"field": "m", "type": "quantitative",
                 "scale": {"domain": [77, 261, 507, 691, 860, 1075, 1305, 1612], "range": ["#2d4f8a", "#4a68a8", "#857d88", "#b48b62", "#e59b48", "#f0b463", "#f8d086", "#fff3c8"], "clamp": true, "interpolate": "rgb"},
                 "legend": {"type": "gradient", "title": "mb̃(GeV)", "orient": "none", "legendX": 428, "legendY": 34, "direction": "vertical", "gradientLength": 335, "gradientThickness": 9, "values": [250,500,750,1000,1250,1500], "format": "d", "labelFont": "Liberation Sans", "labelFontWeight": "bold", "labelFontSize": 14, "labelColor": "#666", "labelOffset": 6, "labelOverlap": false, "titleFont": "Liberation Sans", "titleFontSize": 14, "titleFontWeight": "bold", "titleColor": "#444", "titlePadding": 18, "gradientStrokeColor": "#bbb", "gradientStrokeWidth": 0.5}}
      }
    },
    {
      "data": {"name": "sfermionEdge"},
      "mark": {"type": "area", "fill": "white", "clip": true},
      "encoding": {
        "x": {"field": "x", "type": "quantitative", "axis": null},
        "y": {"field": "y", "type": "quantitative", "axis": null},
        "y2": {"datum": 570}
      }
    },
    {
      "data": {"name": "sfermionContours"},
      "mark": {"type": "line", "stroke": "#000", "strokeOpacity": 0.35, "strokeWidth": 1, "clip": true},
      "encoding": {
        "x": {"field": "x", "type": "quantitative", "axis": {"orient": "top", "zindex": 2, "values": [0,0.05,0.1,0.15,0.2,0.25,0.3,0.35,0.4,0.45,0.5,0.55,0.6,0.65,0.7,0.75,0.8,0.85,0.9,0.95], "labels": false, "title": null, "tickSize": -3}},
        "y": {"field": "y", "type": "quantitative", "axis": {"orient": "right", "zindex": 2, "values": [160,180,200,220,240,260,280,300,320,340,360,380,400,420,440,460,480,500,520,540,560], "labels": false, "title": null, "tickSize": -3}},
        "detail": {"field": "level", "type": "nominal"},
        "order": {"field": "x", "type": "quantitative"}
      }
    }
  ]
},
{
  "width": 404, "height": 404,
  "title": {"text": "non-universal gaugino masses", "orient": "bottom", "frame": "group", "anchor": "middle", "dx": -19, "offset": 29, "font": "Liberation Serif", "fontSize": 27, "fontWeight": "normal", "color": "#000"},
  "resolve": {"axis": {"x": "independent", "y": "independent"}},
  "layer": [
    {
      "data": {"name": "gaugino"},
      "mark": {"type": "rect", "fill": null, "strokeWidth": 1.5, "clip": true},
      "encoding": {
        "x": {"field": "x", "type": "quantitative", "scale": {"domain": [0, 0.967], "nice": false, "zero": false},
              "axis": {"orient": "bottom", "zindex": 2, "values": [0,0.05,0.1,0.15,0.2,0.25,0.3,0.35,0.4,0.45,0.5,0.55,0.6,0.65,0.7,0.75,0.8,0.85,0.9,0.95], "labelExpr": "round(datum.value*20) % 4 == 0 ? format(datum.value, '.1f') : ''", "title": "(Λd₃)₃₃", "titleFontSize": 13, "tickSize": -3, "labelPadding": 9, "titlePadding": 8}},
        "x2": {"field": "x2"},
        "y": {"field": "y", "type": "quantitative", "scale": {"domain": [150, 570], "nice": false, "zero": false},
              "axis": {"orient": "left", "zindex": 2, "values": [160,180,200,220,240,260,280,300,320,340,360,380,400,420,440,460,480,500,520,540,560], "labelExpr": "datum.value % 100 == 0 ? datum.label : ''", "title": "m₀(GeV)", "titleFontSize": 15, "tickSize": -3, "labelPadding": 6, "titlePadding": 8}},
        "y2": {"field": "y2"},
        "stroke": {"field": "m", "type": "quantitative",
                 "scale": {"domain": [574, 746, 974, 1145, 1302, 1501, 1715, 2001], "range": ["#2d4f8a", "#4a68a8", "#857d88", "#b48b62", "#e59b48", "#f0b463", "#f8d086", "#fff3c8"], "clamp": true, "interpolate": "rgb"},
                 "legend": null}
      }
    },
    {
      "data": {"name": "gaugino"},
      "mark": {"type": "rect", "clip": true},
      "encoding": {
        "x": {"field": "x", "type": "quantitative", "axis": null},
        "x2": {"field": "x2"},
        "y": {"field": "y", "type": "quantitative", "axis": null},
        "y2": {"field": "y2"},
        "fill": {"field": "m", "type": "quantitative",
                 "scale": {"domain": [575, 746, 974, 1145, 1302, 1501, 1715, 2000], "range": ["#2d4f8a", "#4a68a8", "#857d88", "#b48b62", "#e59b48", "#f0b463", "#f8d086", "#fff3c8"], "clamp": true, "interpolate": "rgb"},
                 "legend": {"type": "gradient", "title": "ml̃₃(GeV)", "orient": "none", "legendX": 427, "legendY": 32, "direction": "vertical", "gradientLength": 335, "gradientThickness": 9, "values": [750,1000,1250,1500,1750,2000], "format": "d", "labelFont": "Liberation Sans", "labelFontWeight": "bold", "labelFontSize": 14, "labelColor": "#666", "labelOffset": 6, "labelOverlap": false, "titleFont": "Liberation Sans", "titleFontSize": 14, "titleFontWeight": "bold", "titleColor": "#444", "titlePadding": 20, "gradientStrokeColor": "#bbb", "gradientStrokeWidth": 0.5}}
      }
    },
    {
      "data": {"name": "gauginoContours"},
      "mark": {"type": "line", "stroke": "#000", "strokeOpacity": 0.35, "strokeWidth": 1, "clip": true},
      "encoding": {
        "x": {"field": "x", "type": "quantitative", "axis": {"orient": "top", "zindex": 2, "values": [0,0.05,0.1,0.15,0.2,0.25,0.3,0.35,0.4,0.45,0.5,0.55,0.6,0.65,0.7,0.75,0.8,0.85,0.9,0.95], "labels": false, "title": null, "tickSize": -3}},
        "y": {"field": "y", "type": "quantitative", "axis": {"orient": "right", "zindex": 2, "values": [160,180,200,220,240,260,280,300,320,340,360,380,400,420,440,460,480,500,520,540,560], "labels": false, "title": null, "tickSize": -3}},
        "detail": {"field": "level", "type": "nominal"},
        "order": {"field": "y", "type": "quantitative"}
      }
    }
  ]
}
]
}
